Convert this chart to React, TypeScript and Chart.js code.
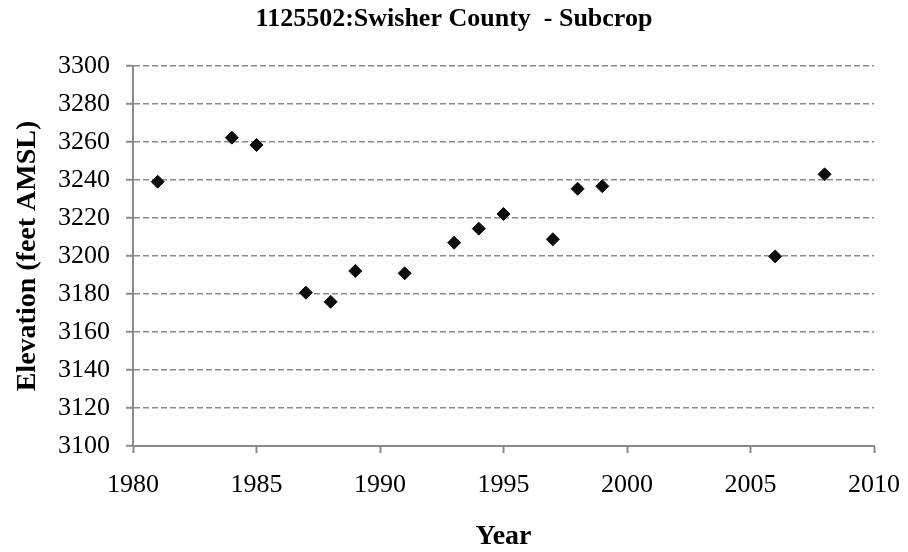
import React, { useEffect, useRef } from "react";
import { Chart, registerables } from "chart.js";

Chart.register(...registerables);

const years = [1981, 1984, 1985, 1987, 1988, 1989, 1991, 1993, 1994, 1995, 1997, 1998, 1999, 2006, 2008];
const elevations = [3239.1, 3262.3, 3258.4, 3180.7, 3175.9, 3192.1, 3190.9, 3207.0, 3214.4, 3222.1, 3208.8, 3235.4, 3236.7, 3199.8, 3243.0];

const titleText = "1125502:Swisher County  - Subcrop";
const xTitle = "Year";
const yTitle = "Elevation (feet AMSL)";

const FONT = "'Liberation Serif', 'Times New Roman', serif";
const GRID = "#8a8a8a";

export default function App() {
  const ref = useRef<HTMLCanvasElement | null>(null);

  useEffect(() => {
    if (!ref.current) return;
    const chart = new Chart(ref.current, {
      type: "scatter",
      data: {
        datasets: [
          {
            label: "Elevation",
            data: years.map((x, i) => ({ x, y: elevations[i] })),
            pointStyle: "rectRot",
            pointRadius: 6.5,
            pointHoverRadius: 6.5,
            backgroundColor: "#0d0d0d",
            borderColor: "#0d0d0d",
            borderWidth: 1,
            showLine: false,
          },
        ],
      },
      options: {
        responsive: false,
        animation: false,
        layout: { padding: 0 },
        plugins: {
          legend: { display: false },
          tooltip: { enabled: false },
          title: {
            display: true,
            text: titleText,
            color: "#000",
            font: { family: FONT, size: 26, weight: "bold", lineHeight: 1.2 },
            padding: { top: 4, bottom: 30.8 },
          },
        },
        scales: {
          x: {
            type: "linear",
            position: "bottom",
            min: 1980,
            max: 2010,
            afterFit: (s: any) => {
              s.height = 106;
              s.paddingLeft = 0;
              s.paddingRight = 0;
            },
            ticks: {
              stepSize: 5,
              color: "#000",
              padding: 17,
              font: { family: FONT, size: 26 },
              callback: (v: any) => String(v),
            },
            grid: {
              drawOnChartArea: false,
              drawTicks: true,
              tickLength: 7,
              color: GRID,
              tickColor: GRID,
              tickWidth: 2,
            },
            border: { display: true, color: GRID, width: 2 },
            title: {
              display: true,
              text: xTitle,
              color: "#000",
              font: { family: FONT, size: 28, weight: "bold", lineHeight: 1.0 },
              padding: { top: 0, bottom: 1 },
            },
          },
          y: {
            type: "linear",
            position: "left",
            min: 3100,
            max: 3300,
            afterFit: (s: any) => {
              s.width = 133;
              s.paddingTop = 0;
              s.paddingBottom = 0;
            },
            ticks: {
              stepSize: 20,
              color: "#000",
              padding: 16,
              font: { family: FONT, size: 26 },
              callback: (v: any) => String(v),
            },
            grid: {
              drawOnChartArea: true,
              drawTicks: true,
              tickLength: 7,
              color: GRID,
              lineWidth: 1.5,
              tickColor: GRID,
              tickWidth: 2,
              tickBorderDash: [],
            },
            border: { display: true, color: GRID, width: 2, dash: [6, 3] },
            title: {
              display: true,
              text: yTitle,
              color: "#000",
              font: { family: FONT, size: 28, weight: "bold", lineHeight: 1.2 },
              padding: { top: 11, bottom: 0 },
            },
          },
          y2: {
            type: "linear",
            position: "right",
            display: true,
            afterFit: (s: any) => {
              s.width = 34;
            },
            ticks: { display: false },
            grid: { display: false, drawOnChartArea: false, drawTicks: false },
            border: { display: false },
          },
        },
      },
    });
    return () => chart.destroy();
  }, []);

  return (
    <div style={{ position: "absolute", left: 0, top: 0, width: 908, height: 552, background: "#fff" }}>
      <canvas ref={ref} width={908} height={552} />
    </div>
  );
}
